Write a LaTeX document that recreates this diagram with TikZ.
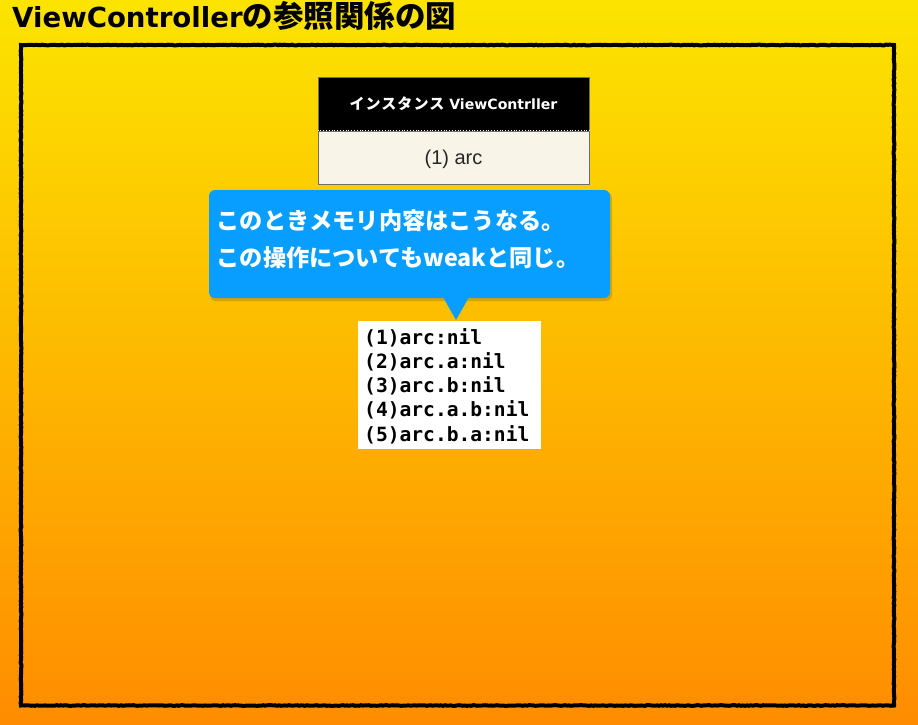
\documentclass[tikz,border=0pt]{standalone}
\usepackage{fontspec}
\setmainfont{Liberation Sans}
\newfontfamily\jpfont{Noto Sans CJK JP}
\newfontfamily\latinfont{DejaVu Sans}
\newfontfamily\codefont{DejaVu Sans Mono}
\usetikzlibrary{decorations.pathmorphing}
\definecolor{bgtop}{RGB}{252,228,0}
\definecolor{bgbot}{RGB}{255,140,0}
\definecolor{calloutblue}{RGB}{8,158,255}
\definecolor{cream}{RGB}{248,245,232}
\definecolor{boxgray}{RGB}{110,110,110}
\tikzset{
  titletext/.style={anchor=base west, inner sep=0pt},
  roughframe/.style={line width=4pt, decorate, decoration={random steps, segment length=2pt, amplitude=0.35pt}},
  headbox/.style={fill=black, draw=boxgray, line width=0.8pt, minimum width=271pt, minimum height=54pt, inner sep=0pt},
  bodybox/.style={fill=cream, draw=boxgray, line width=0.8pt, minimum width=271pt, minimum height=53pt, inner sep=0pt},
  calloutfill/.style={fill=calloutblue, rounded corners=6pt},
  callouttext/.style={anchor=base west, inner sep=0pt, text=white, font=\jpfont\bfseries\fontsize{23.2}{26}\selectfont},
  codeboxstyle/.style={fill=white, minimum width=183pt, minimum height=128pt, inner sep=0pt},
  codeline/.style={anchor=base west, inner sep=0pt, font=\codefont\bfseries\fontsize{19.6}{24}\selectfont},
}
\begin{document}
\begin{tikzpicture}[x=1pt, y=-1pt]
\useasboundingbox (0,0) rectangle (918,724);
\shade[top color=bgtop, bottom color=bgbot] (0,0) rectangle (918,724);
% title
\node[titletext] (title) at (12,27) {{\latinfont\bfseries\fontsize{27.6}{30}\selectfont ViewController}{\jpfont\bfseries\fontsize{30.5}{32}\selectfont の参照関係の図}};
% rough frame
\draw[roughframe] (21,45) rectangle (894,705.5);
% instance box
\node[headbox] (head) at (453.5,104) {};
\node[bodybox] (body) at (453.5,157.5) {};
\draw[white, line width=0.8pt, dotted] (body.north west) -- (body.north east);
\node[text=white, inner sep=0pt] (headtext) at (head.center) {{\jpfont\bfseries\fontsize{15}{18}\selectfont\addfontfeature{LetterSpace=7}インスタンス}\hspace{5pt}{\latinfont\bfseries\fontsize{14.1}{18}\selectfont ViewContrller}};
\node[font=\fontsize{20}{22}\selectfont, text=black!85, inner sep=0pt] (bodytext) at (453.5,159) {(1) arc};
% callout shadow
\fill[black, opacity=0.15, rounded corners=6pt] (210,192) rectangle (612,301);
% callout
\fill[calloutfill] (209,190) rectangle (610,298);
\fill[calloutblue] (443,297) -- (469,297) -- (456,320) -- cycle;
\node[callouttext] (c1) at (216.5,229) {このときメモリ内容はこうなる。};
\node[callouttext] (c2) at (216.5,266) {この操作についてもweakと同じ。};
% code box
\node[codeboxstyle] (code) at (449.5,385) {};
\node[codeline] (l1) at (364,344) {(1)arc:nil};
\node[codeline] (l2) at (364,368) {(2)arc.a:nil};
\node[codeline] (l3) at (364,392) {(3)arc.b:nil};
\node[codeline] (l4) at (364,416.5) {(4)arc.a.b:nil};
\node[codeline] (l5) at (364,441) {(5)arc.b.a:nil};
\end{tikzpicture}
\end{document}
